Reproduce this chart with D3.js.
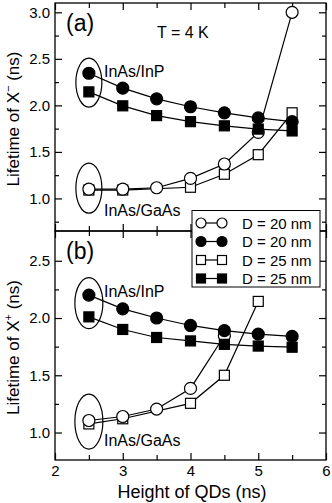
<!DOCTYPE html>
<html>
<head>
<meta charset="utf-8">
<script src="https://cdn.jsdelivr.net/npm/d3@7"></script>
<style>
  body { margin: 0; background: #fff; }
  svg text { font-family: "Liberation Sans", Arial, sans-serif; fill: #000; }
</style>
</head>
<body>
<div id="chart"></div>
<script>
// QD heights (x values)
var heights = [2.5, 3, 3.5, 4, 4.5, 5, 5.5];

// panel (a): lifetime of X- (ns), null = no point
var aOpen20 = [1.10, 1.10, 1.115, 1.215, 1.37, 1.71, 3.00];
var aFill20 = [2.345, 2.185, 2.07, 1.985, 1.92, 1.865, 1.825];
var aOpen25 = [1.09, 1.09, null, 1.12, 1.26, 1.47, 1.92];
var aFill25 = [2.145, 1.995, 1.89, 1.825, 1.78, 1.745, 1.725];

// panel (b): lifetime of X+ (ns)
var bOpen20 = [1.105, 1.14, 1.205, 1.385, 1.845, null, null];
var bFill20 = [2.20, 2.08, 2.00, 1.935, 1.89, 1.86, 1.84];
var bOpen25 = [1.075, 1.12, null, 1.255, 1.50, 2.145, null];
var bFill25 = [2.01, 1.90, 1.83, 1.80, 1.77, 1.755, 1.745];

var legendLabels = ["D = 20 nm", "D = 20 nm", "D = 25 nm", "D = 25 nm"];
var xTicks = [2, 3, 4, 5, 6];
var xMinor = [2.5, 3.5, 4.5, 5.5];
var aTicks = [1.0, 1.5, 2.0, 2.5, 3.0];
var aMinor = [0.75, 1.25, 1.75, 2.25, 2.75];
var bTicks = [1.0, 1.5, 2.0, 2.5];
var bMinor = [1.25, 1.75, 2.25];

var W = 332, H = 503;
var padL = 55, padR = 326, padT = 3, padM = 231, padB = 460;

var svg = d3.select("#chart").append("svg")
  .attr("width", W)
  .attr("height", H);

var x = d3.scaleLinear().domain([2, 6]).range([padL, padR]);
var yA = d3.scaleLinear().domain([0.65, 3.1]).range([padM, padT]);
var yB = d3.scaleLinear().domain([0.76, 2.76]).range([padB, padM]);

function series(vals) {
  return heights.map(function(h, i) { return {x: h, v: vals[i]}; })
    .filter(function(d) { return d.v != null; });
}

function ticks(g, axis) {
  g.call(axis);
  g.select(".domain").remove();
  g.selectAll(".tick line").attr("stroke", "#000").attr("stroke-width", 1.2);
  g.selectAll("text").attr("font-size", 15).attr("font-family", "Liberation Sans, Arial, sans-serif");
}

function panel(y, yMaj, yMin, showX, sets, ellipses, label, yTitle, sign) {
  var y0 = y.range()[1], y1 = y.range()[0];

  // axes ticks, all pointing inward
  ticks(svg.append("g").attr("transform", "translate(" + padL + ",0)"),
    d3.axisLeft(y).tickValues(yMaj).tickSize(-7).tickPadding(5).tickFormat(d3.format(".1f")));
  ticks(svg.append("g").attr("transform", "translate(" + padL + ",0)"),
    d3.axisLeft(y).tickValues(yMin).tickSize(-4).tickFormat(""));
  ticks(svg.append("g").attr("transform", "translate(" + padR + ",0)"),
    d3.axisRight(y).tickValues(yMaj).tickSize(-7).tickFormat(""));
  ticks(svg.append("g").attr("transform", "translate(" + padR + ",0)"),
    d3.axisRight(y).tickValues(yMin).tickSize(-4).tickFormat(""));
  ticks(svg.append("g").attr("transform", "translate(0," + y0 + ")"),
    d3.axisTop(x).tickValues(xTicks).tickSize(-7).tickFormat(""));
  ticks(svg.append("g").attr("transform", "translate(0," + y0 + ")"),
    d3.axisTop(x).tickValues(xMinor).tickSize(-5).tickFormat(""));
  ticks(svg.append("g").attr("transform", "translate(0," + y1 + ")"),
    d3.axisBottom(x).tickValues(xTicks).tickSize(-7).tickPadding(5)
      .tickFormat(showX ? d3.format("d") : ""));
  ticks(svg.append("g").attr("transform", "translate(0," + y1 + ")"),
    d3.axisBottom(x).tickValues(xMinor).tickSize(-5).tickFormat(""));

  svg.append("rect")
    .attr("x", padL).attr("y", y0)
    .attr("width", padR - padL).attr("height", y1 - y0)
    .attr("fill", "none").attr("stroke", "#000").attr("stroke-width", 1.3);

  var line = d3.line()
    .x(function(d) { return x(d.x); })
    .y(function(d) { return y(d.v); });

  sets.forEach(function(s) {
    svg.append("path")
      .attr("d", line(series(s.vals)))
      .attr("fill", "none")
      .attr("stroke", "#000")
      .attr("stroke-width", 1.2);
  });
  sets.forEach(function(s) {
    drawMarks(series(s.vals), s, function(d) { return x(d.x); }, function(d) { return y(d.v); }, 6, 10);
  });

  ellipses.forEach(function(e) {
    svg.append("ellipse")
      .attr("cx", x(2.5)).attr("cy", y(e.v))
      .attr("rx", e.rx).attr("ry", e.ry)
      .attr("fill", "none").attr("stroke", "#000").attr("stroke-width", 1.2);
    svg.append("text")
      .attr("x", 104).attr("y", y(e.v) + e.dy)
      .attr("font-size", 16)
      .text(e.text);
  });

  svg.append("text")
    .attr("x", 66).attr("y", y0 + 28)
    .attr("font-size", 23)
    .text(label);

  var t = svg.append("text")
    .attr("transform", "translate(19," + ((y0 + y1) / 2 + 2) + ") rotate(-90)")
    .attr("text-anchor", "middle")
    .attr("font-size", 17);
  t.append("tspan").text(yTitle);
  t.append("tspan").attr("font-size", 11).attr("dy", -7).text(sign);
  t.append("tspan").attr("dy", 7).text(" (ns)");
}

function drawMarks(pts, s, fx, fy, r, side) {
  if (s.shape === "circle") {
    svg.selectAll(null).data(pts).enter().append("circle")
      .attr("cx", fx).attr("cy", fy).attr("r", r)
      .attr("fill", s.filled ? "#000" : "#fff")
      .attr("stroke", "#000").attr("stroke-width", 1.2);
  } else {
    svg.selectAll(null).data(pts).enter().append("rect")
      .attr("x", function(d) { return fx(d) - side / 2; })
      .attr("y", function(d) { return fy(d) - side / 2; })
      .attr("width", side).attr("height", side)
      .attr("fill", s.filled ? "#000" : "#fff")
      .attr("stroke", "#000").attr("stroke-width", 1.2);
  }
}

var styles = [
  {shape: "circle", filled: false},
  {shape: "circle", filled: true},
  {shape: "square", filled: false},
  {shape: "square", filled: true}
];

panel(yA, aTicks, aMinor, false, [
    {vals: aOpen25, shape: "square", filled: false},
    {vals: aOpen20, shape: "circle", filled: false},
    {vals: aFill25, shape: "square", filled: true},
    {vals: aFill20, shape: "circle", filled: true}
  ],
  [{v: 2.245, rx: 13, ry: 24.5, text: "InAs/InP", dy: -6},
   {v: 1.11, rx: 13, ry: 25, text: "InAs/GaAs", dy: 28}],
  "(a)", "Lifetime of X", "\u2212");

panel(yB, bTicks, bMinor, true, [
    {vals: bOpen25, shape: "square", filled: false},
    {vals: bOpen20, shape: "circle", filled: false},
    {vals: bFill25, shape: "square", filled: true},
    {vals: bFill20, shape: "circle", filled: true}
  ],
  [{v: 2.13, rx: 14, ry: 25.5, text: "InAs/InP", dy: -6},
   {v: 1.096, rx: 14, ry: 27.5, text: "InAs/GaAs", dy: 24}],
  "(b)", "Lifetime of X", "+");

svg.append("text")
  .attr("x", 157).attr("y", 38)
  .attr("font-size", 16)
  .text("T = 4 K");

svg.append("text")
  .attr("x", 192).attr("y", 498)
  .attr("text-anchor", "middle")
  .attr("font-size", 18)
  .text("Height of QDs (ns)");

// legend
var lg = svg.append("g");
lg.append("rect")
  .attr("x", 192).attr("y", 210.5)
  .attr("width", 128).attr("height", 76.5)
  .attr("fill", "#fff").attr("stroke", "#000").attr("stroke-width", 1);
var rowY = d3.scalePoint().domain(d3.range(4)).range([223, 278.5]);
styles.forEach(function(s, i) {
  var yy = rowY(i);
  lg.append("line")
    .attr("x1", 201).attr("x2", 222).attr("y1", yy).attr("y2", yy)
    .attr("stroke", "#000").attr("stroke-width", 1.2);
  drawMarks([{x: 201}, {x: 222}], s, function(d) { return d.x; }, function() { return yy; }, 5, 9);
  lg.append("text")
    .attr("x", 242).attr("y", yy + 5.5)
    .attr("font-size", 15)
    .text(legendLabels[i]);
});
</script>
</body>
</html>
